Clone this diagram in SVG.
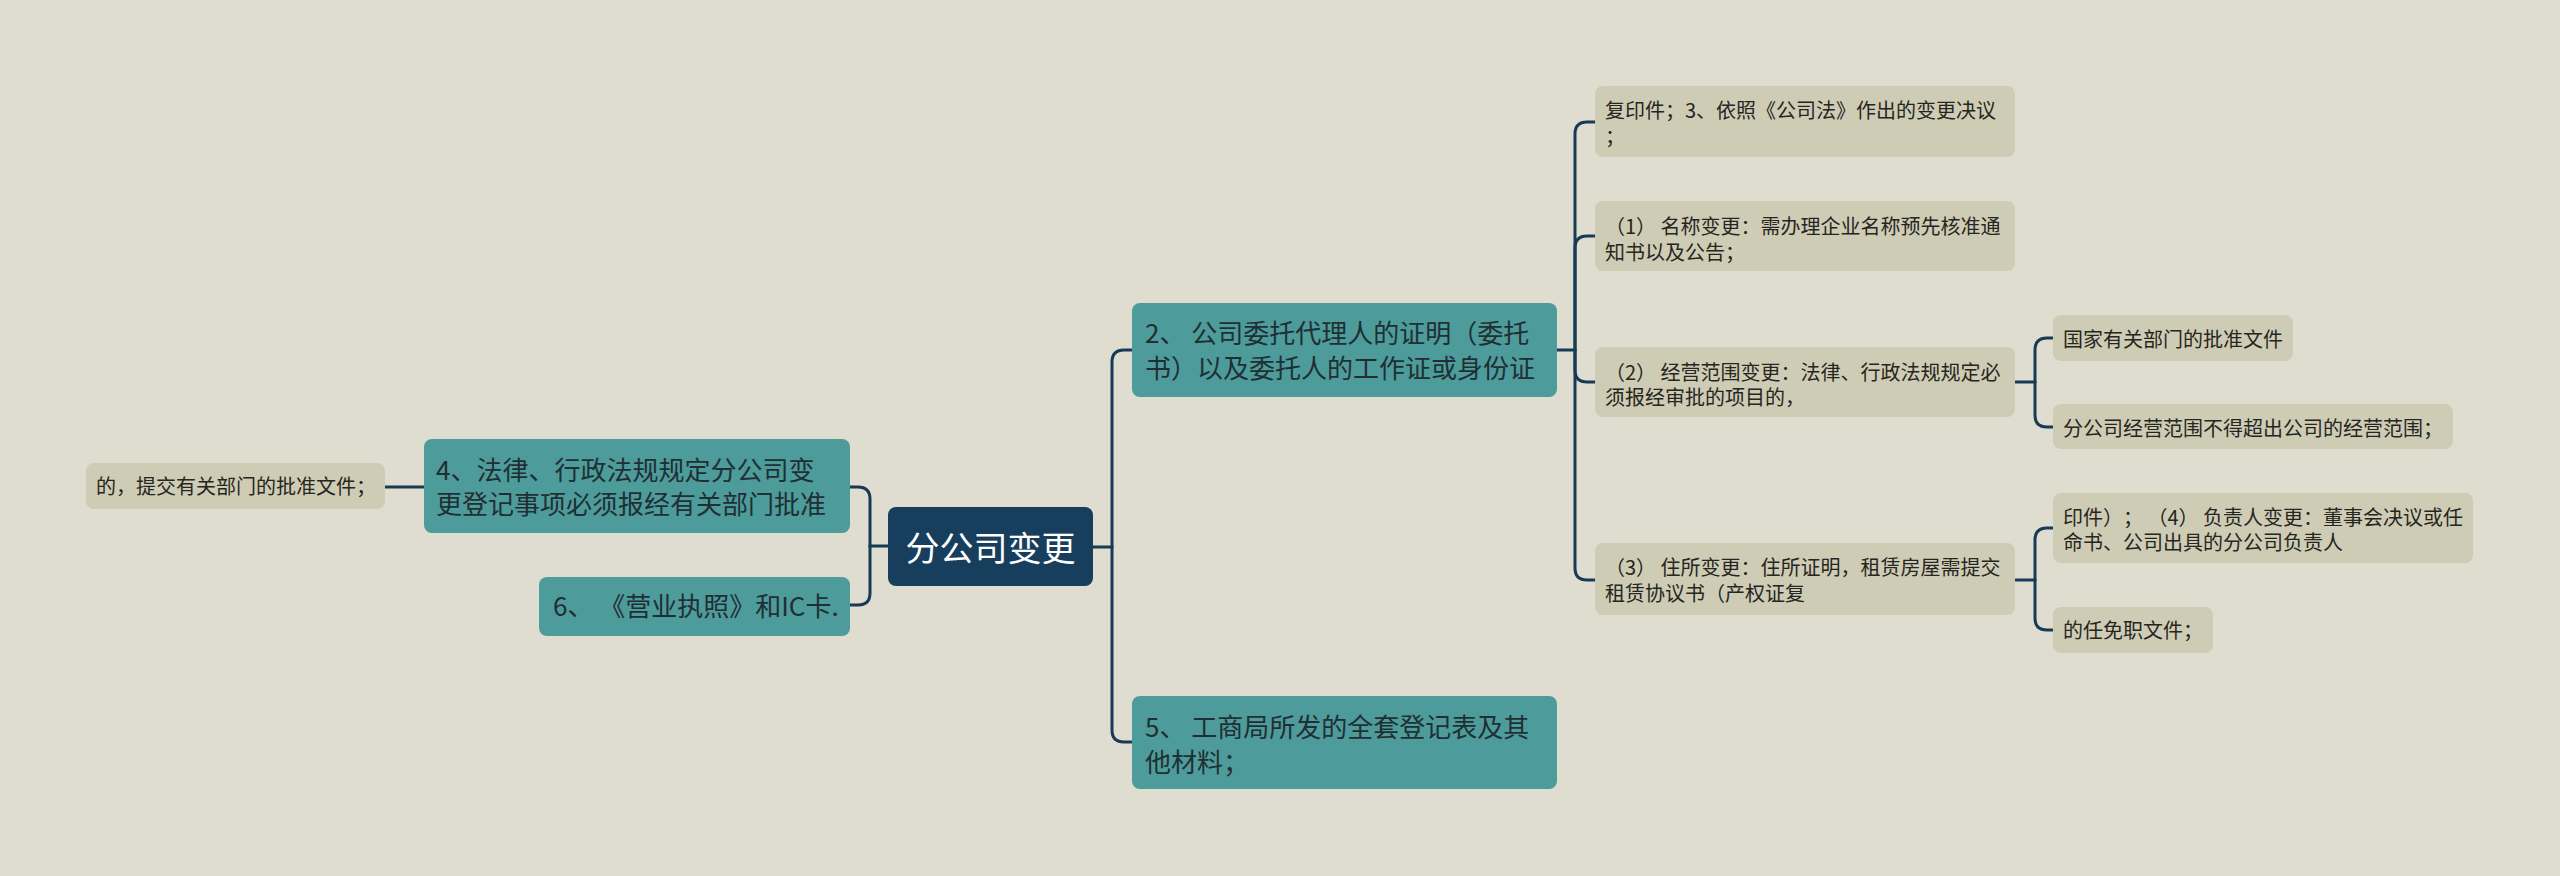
<svg xmlns="http://www.w3.org/2000/svg" width="2560" height="876" viewBox="0 0 2560 876">
<style>
.bg{fill:#dfddcf}
.root{fill:#173e5c}
.teal{fill:#4d9b9b}
.leaf{fill:#cfccb6}
.t{font-family:"Noto Sans CJK SC","Noto Sans",sans-serif;text-spacing-trim:space-all}
.rt{font-size:34px;fill:#ffffff}
.tt{font-size:26px;fill:#1f2f33}
.lt{font-size:20px;fill:#262620}
.c{fill:none;stroke:#173a57;stroke-width:3;stroke-linecap:round}
</style>
<rect class="bg" x="0" y="0" width="2560" height="876"/>
<g id="connectors">
<path class="c" d="M1093,547 H1112"/>
<path class="c" d="M1112,547 V362 Q1112,350 1124,350 H1132"/>
<path class="c" d="M1112,547 V730 Q1112,742 1124,742 H1132"/>
<path class="c" d="M888,546 H870"/>
<path class="c" d="M870,546 V499 Q870,487 858,487 H850"/>
<path class="c" d="M870,546 V593 Q870,605 858,605 H850"/>
<path class="c" d="M424,487 H385"/>
<path class="c" d="M1557,350 H1575"/>
<path class="c" d="M1575,350 V134 Q1575,122 1587,122 H1595"/>
<path class="c" d="M1575,350 V248 Q1575,236 1587,236 H1595"/>
<path class="c" d="M1575,350 V370 Q1575,382 1587,382 H1595"/>
<path class="c" d="M1575,350 V568 Q1575,580 1587,580 H1595"/>
<path class="c" d="M2015,382 H2035"/>
<path class="c" d="M2035,382 V350 Q2035,338 2047,338 H2053"/>
<path class="c" d="M2035,382 V415 Q2035,427 2047,427 H2053"/>
<path class="c" d="M2015,580 H2035"/>
<path class="c" d="M2035,580 V540 Q2035,528 2047,528 H2053"/>
<path class="c" d="M2035,580 V618 Q2035,630 2047,630 H2053"/>
</g>
<g id="root">
<rect class="root" x="888" y="507" width="205" height="79" rx="8"/>
<text class="t rt" x="990.5" y="561" text-anchor="middle">分公司变更</text>
</g>
<g id="n4">
<rect class="teal" x="424" y="439" width="426" height="94" rx="8"/>
<text class="t tt" x="436" y="480">4、法律、行政法规规定分公司变</text>
<text class="t tt" x="436" y="514">更登记事项必须报经有关部门批准</text>
</g>
<g id="n4a">
<rect class="leaf" x="86" y="463" width="299" height="46" rx="8"/>
<text class="t lt" x="96" y="494">的，提交有关部门的批准文件；</text>
</g>
<g id="n6">
<rect class="teal" x="539" y="577" width="311" height="59" rx="8"/>
<text class="t tt" x="553" y="616">6、 《营业执照》和IC卡.</text>
</g>
<g id="n2">
<rect class="teal" x="1132" y="303" width="425" height="94" rx="8"/>
<text class="t tt" x="1145" y="343">2、 公司委托代理人的证明（委托</text>
<text class="t tt" x="1145" y="378">书）以及委托人的工作证或身份证</text>
</g>
<g id="n5">
<rect class="teal" x="1132" y="696" width="425" height="93" rx="8"/>
<text class="t tt" x="1145" y="737">5、 工商局所发的全套登记表及其</text>
<text class="t tt" x="1145" y="772">他材料；</text>
</g>
<g id="n2a">
<rect class="leaf" x="1595" y="86" width="420" height="71" rx="8"/>
<text class="t lt" x="1605" y="118">复印件；3、依照《公司法》作出的变更决议</text>
<text class="t lt" x="1605" y="144">；</text>
</g>
<g id="n2b">
<rect class="leaf" x="1595" y="201" width="420" height="70" rx="8"/>
<text class="t lt" x="1605" y="234">（1） 名称变更：需办理企业名称预先核准通</text>
<text class="t lt" x="1605" y="260">知书以及公告；</text>
</g>
<g id="n2c">
<rect class="leaf" x="1595" y="347" width="420" height="70" rx="8"/>
<text class="t lt" x="1605" y="380">（2） 经营范围变更：法律、行政法规规定必</text>
<text class="t lt" x="1605" y="405">须报经审批的项目的，</text>
</g>
<g id="n2d">
<rect class="leaf" x="1595" y="543" width="420" height="72" rx="8"/>
<text class="t lt" x="1605" y="575">（3） 住所变更：住所证明，租赁房屋需提交</text>
<text class="t lt" x="1605" y="601">租赁协议书（产权证复</text>
</g>
<g id="n2c1">
<rect class="leaf" x="2053" y="315" width="240" height="46" rx="8"/>
<text class="t lt" x="2063" y="347">国家有关部门的批准文件</text>
</g>
<g id="n2c2">
<rect class="leaf" x="2053" y="404" width="400" height="45" rx="8"/>
<text class="t lt" x="2063" y="436">分公司经营范围不得超出公司的经营范围；</text>
</g>
<g id="n2d1">
<rect class="leaf" x="2053" y="493" width="420" height="70" rx="8"/>
<text class="t lt" x="2063" y="525">印件）； （4） 负责人变更：董事会决议或任</text>
<text class="t lt" x="2063" y="550">命书、公司出具的分公司负责人</text>
</g>
<g id="n2d2">
<rect class="leaf" x="2053" y="607" width="160" height="46" rx="8"/>
<text class="t lt" x="2063" y="638">的任免职文件；</text>
</g>
</svg>
